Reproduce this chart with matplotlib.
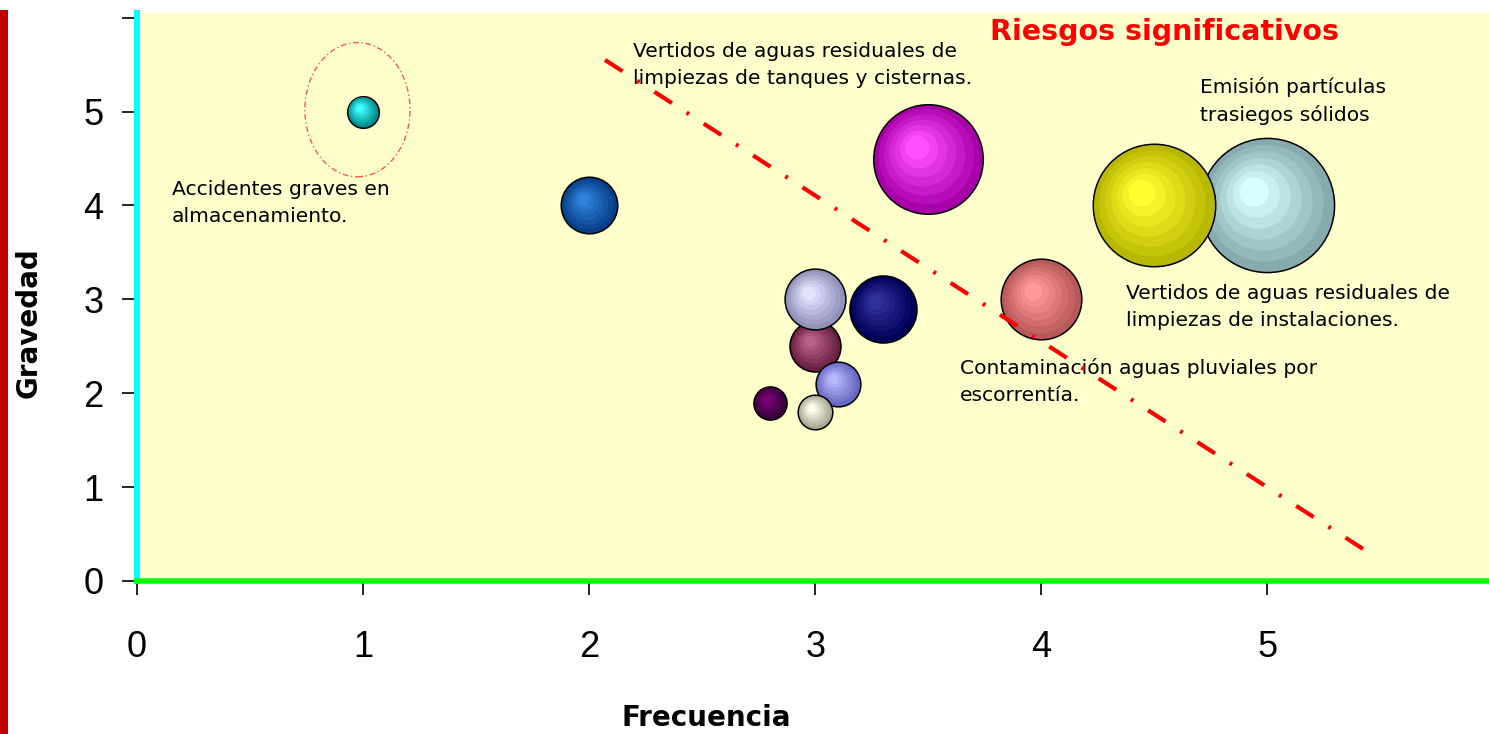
import numpy as np
import matplotlib
matplotlib.use("Agg")
import matplotlib.pyplot as plt
from matplotlib.patches import Ellipse, Rectangle
from matplotlib.transforms import ScaledTranslation
from matplotlib.colors import to_rgb

# Risk matrix: frequency (x), severity (y), bubble magnitude
frecuencia = [1.0, 2.0, 3.5, 5.0, 4.5, 4.0, 3.0, 3.0, 3.3, 3.1, 2.8, 3.0]
gravedad = [5.0, 4.0, 4.5, 4.0, 4.0, 3.0, 2.5, 3.0, 2.9, 2.1, 1.9, 1.8]
magnitud = [10, 32, 120, 180, 150, 65, 26, 37, 45, 20, 11, 12]

# (shadow, highlight) per bubble
colores = [
    ("#008C8C", "#40FFFF"),
    ("#083E88", "#2C80D8"),
    ("#A800A8", "#FF50FF"),
    ("#86AAAE", "#D8FFFF"),
    ("#B8B800", "#FFFF30"),
    ("#B85858", "#FF9A9A"),
    ("#682040", "#B86088"),
    ("#9090B8", "#E4E4FF"),
    ("#000058", "#30309A"),
    ("#6868C0", "#B8B8FF"),
    ("#380038", "#780078"),
    ("#A8A890", "#FFFFF0"),
]

xticks = [0, 1, 2, 3, 4, 5]
yticks = [0, 1, 2, 3, 4, 5, 6]
ytick_labels = ["0", "1", "2", "3", "4", "5", ""]

umbral_x = [2.07, 5.43]
umbral_y = [5.55, 0.33]

fig = plt.figure(figsize=(14.89, 7.34), dpi=100)
fig.patch.set_facecolor("white")
ax = fig.add_axes([137 / 1489, 153 / 734, 1 - 137 / 1489, 568 / 734])
ax.set_facecolor("#FFFFCC")
ax.set_xlim(0, 5.98)
ax.set_ylim(0, 6.05)

# red strip on the left edge
fig.add_artist(Rectangle((0, 0), 8 / 1489, 724 / 734, transform=fig.transFigure,
                         facecolor="#C00000", edgecolor="none"))

for s in ("top", "right"):
    ax.spines[s].set_visible(False)
ax.spines["left"].set_color("#00FFFF")
ax.spines["left"].set_linewidth(4.3)
ax.spines["bottom"].set_color("#00FF00")
ax.spines["bottom"].set_linewidth(4.0)

ax.set_xticks(xticks)
ax.set_xticklabels([str(t) for t in xticks])
ax.set_yticks(yticks)
ax.set_yticklabels(ytick_labels)
ax.tick_params(axis="x", direction="out", length=10, width=1.2, color="black",
               pad=25, labelsize=26)
ax.tick_params(axis="y", direction="out", length=11, width=1.2, color="black",
               pad=13, labelsize=26)
for lab in ax.get_xticklabels() + ax.get_yticklabels():
    lab.set_fontfamily("Liberation Sans")


def esfera(x, y, v, sombra, brillo, z):
    d_pt = 7.2 * np.sqrt(v)
    r_pt = d_pt / 2
    c0 = np.array(to_rgb(sombra))
    c1 = np.array(to_rgb(brillo))
    n = 7
    for k in range(n):
        t = k / (n - 1)
        f = 1 - 0.78 * t
        col = c0 + (c1 - c0) * t
        off = (1 - f) * 0.34 * r_pt
        tr = ax.transData + ScaledTranslation(-off * 0.75 / 72, off * 0.75 / 72,
                                              fig.dpi_scale_trans)
        ax.scatter([x], [y], s=(f * d_pt) ** 2, color=[col], transform=tr,
                   edgecolors="black" if k == 0 else "none",
                   linewidths=1.1 if k == 0 else 0, zorder=z, clip_on=False)


for i, (x, y, v) in enumerate(zip(frecuencia, gravedad, magnitud)):
    esfera(x, y, v, colores[i][0], colores[i][1], 3 + i * 0.1)

# highlight ring around the most severe isolated risk
ax.add_patch(Ellipse((frecuencia[0] - 0.025, gravedad[0] + 0.02), 0.465, 1.43,
                     fill=False, edgecolor="#FF5A3C", linewidth=1.0,
                     linestyle=(0, (4, 2, 1, 2)), zorder=2))

# significance threshold
ax.plot(umbral_x, umbral_y, color="#FF0000", linewidth=3,
        linestyle=(0, (5, 4.2, 0.7, 4.2)), zorder=10, solid_capstyle="butt")

tfont = dict(family="DejaVu Sans", fontsize=14.6, color="black",
             linespacing=1.5, va="top", ha="left", zorder=8)
ax.text(0.155, 4.27, "Accidentes graves en\nalmacenamiento.", **tfont)
ax.text(2.195, 5.74, "Vertidos de aguas residuales de\nlimpiezas de tanques y cisternas.", **tfont)
ax.text(4.70, 5.37, "Emisión partículas\ntrasiegos sólidos", **tfont)
ax.text(4.376, 3.16, "Vertidos de aguas residuales de\nlimpiezas de instalaciones.", **tfont)
ax.text(3.64, 2.37, "Contaminación aguas pluviales por\nescorrentía.", **tfont)

ax.text(3.774, 5.85, "Riesgos significativos", family="DejaVu Sans",
        fontweight="bold", fontsize=20.5, color="#FF0000", va="center", ha="left",
        zorder=8)

fig.text(706 / 1489, 1 - 718 / 734, "Frecuencia", family="DejaVu Sans",
         fontweight="bold", fontsize=20, ha="center", va="center")
fig.text(29 / 1489, 1 - 323 / 734, "Gravedad", family="DejaVu Sans",
         fontweight="bold", fontsize=20, ha="center", va="center", rotation=90)

fig.savefig("out.png", dpi=100, facecolor="white")
